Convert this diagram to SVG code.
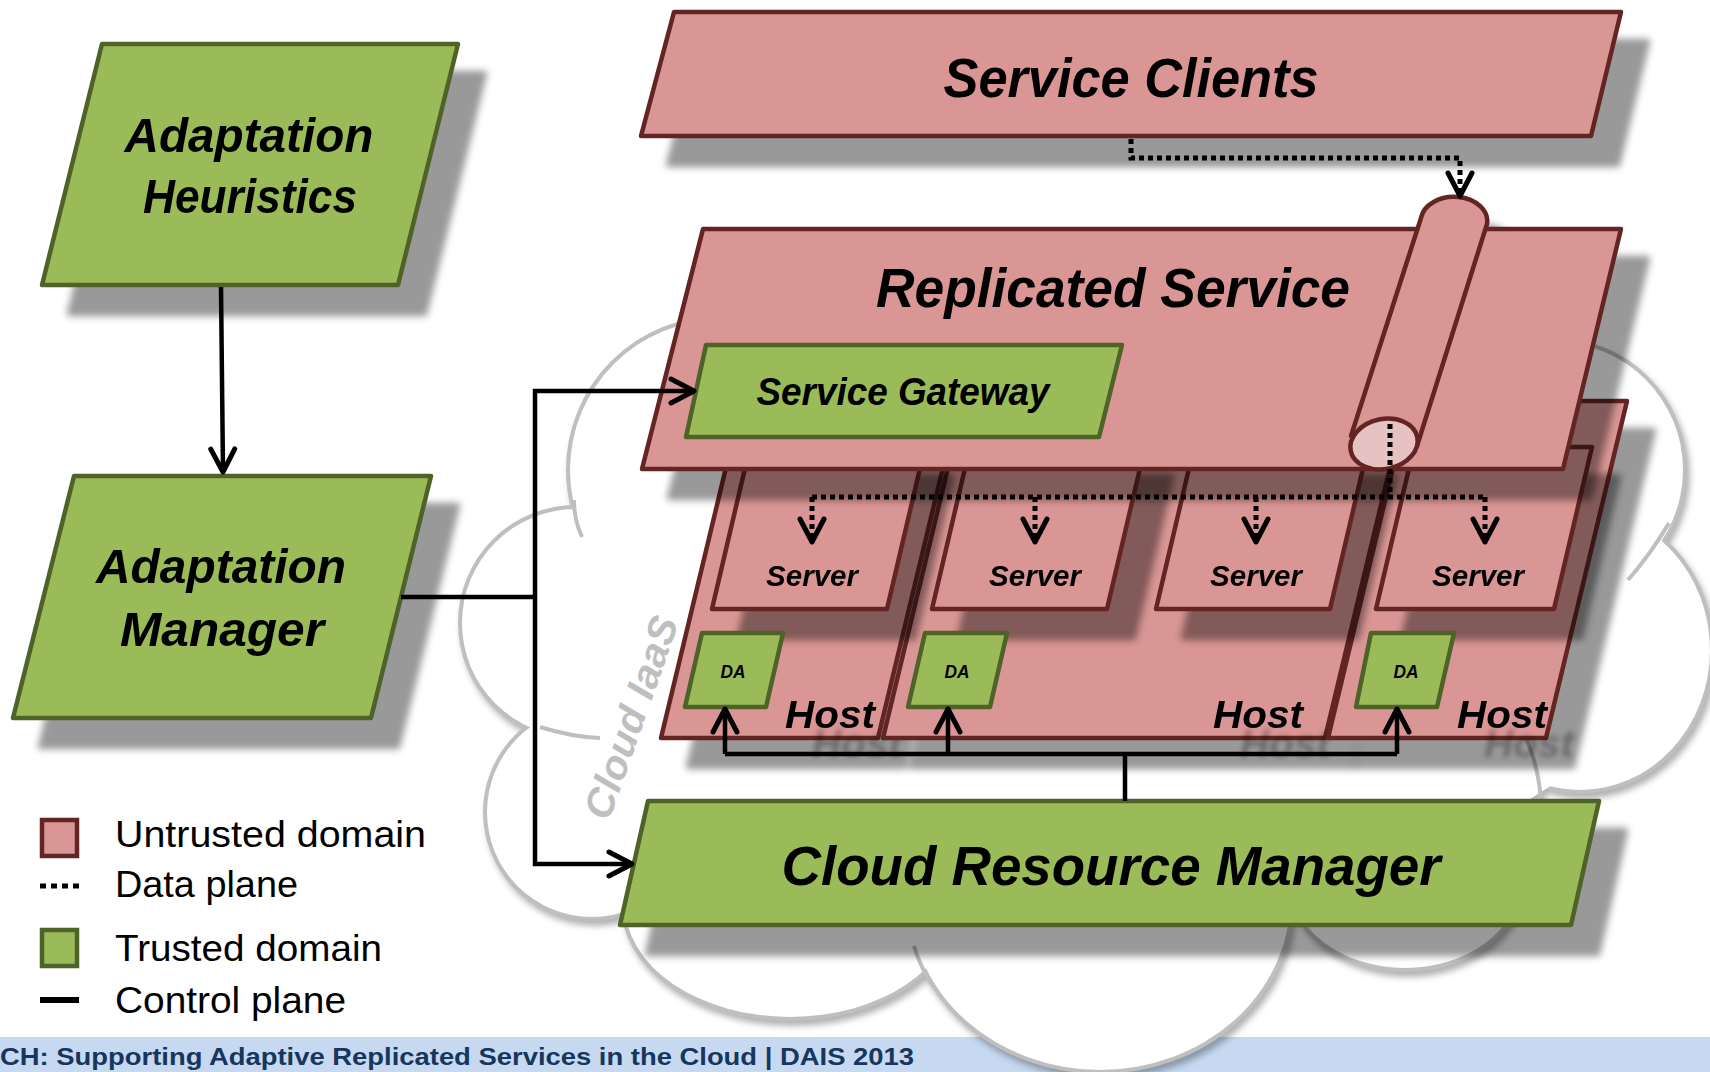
<svg xmlns="http://www.w3.org/2000/svg" width="1710" height="1072" viewBox="0 0 1710 1072">
<style>
.pk{fill:#d99694;stroke:#632523;stroke-width:4.5;stroke-linejoin:round}
.gr{fill:#9bbb59;stroke:#4f6228;stroke-width:4.5;stroke-linejoin:round}
.lbl{font-family:"Liberation Sans",Arial,sans-serif;font-weight:bold;font-style:italic;fill:#000;text-anchor:middle}
.leg{font-family:"Liberation Sans",Arial,sans-serif;font-size:37px;fill:#000}
.ctl{fill:none;stroke:#000;stroke-width:4.5}
.dat{fill:none;stroke:#000;stroke-width:5;stroke-dasharray:5 4}
.cl{fill:none;stroke:#bfbfbf;stroke-width:4}
</style>
<defs>
<filter id="sh" x="-20%" y="-20%" width="150%" height="170%" color-interpolation-filters="sRGB">
<feGaussianBlur in="SourceAlpha" stdDeviation="3.5"/>
<feOffset dx="27" dy="29" result="b"/>
<feFlood flood-color="#000" flood-opacity="0.4"/>
<feComposite in2="b" operator="in"/>
<feMerge><feMergeNode/><feMergeNode in="SourceGraphic"/></feMerge>
</filter>
<filter id="tsh" x="-20%" y="-20%" width="160%" height="200%" color-interpolation-filters="sRGB">
<feGaussianBlur in="SourceAlpha" stdDeviation="2.5"/>
<feOffset dx="27" dy="29" result="b"/>
<feFlood flood-color="#000" flood-opacity="0.3"/>
<feComposite in2="b" operator="in"/>
<feMerge><feMergeNode/><feMergeNode in="SourceGraphic"/></feMerge>
</filter>
<filter id="csh" x="-10%" y="-10%" width="120%" height="120%" color-interpolation-filters="sRGB">
<feGaussianBlur in="SourceAlpha" stdDeviation="3"/>
<feOffset dx="3" dy="5" result="b"/>
<feFlood flood-color="#000" flood-opacity="0.3"/>
<feComposite in2="b" operator="in"/>
<feMerge><feMergeNode/><feMergeNode in="SourceGraphic"/></feMerge>
</filter>
<marker id="ah" markerUnits="userSpaceOnUse" markerWidth="40" markerHeight="40" refX="24" refY="13" orient="auto" overflow="visible">
<path d="M1,1 L24,13 L1,25" fill="none" stroke="#000" stroke-width="5" stroke-dasharray="none" stroke-linecap="round" stroke-linejoin="round"/>
</marker>
</defs>

<rect id="footer-bar" x="0" y="1037" width="1710" height="35" fill="#c6d9f1"/>

<g id="cloud" filter="url(#csh)">
<g fill="none" stroke="#bfbfbf" stroke-width="8">
<circle cx="720" cy="470" r="150"/>
<circle cx="576" cy="623" r="114"/>
<circle cx="592" cy="812" r="105"/>
<ellipse cx="790" cy="905" rx="165" ry="112"/>
<ellipse cx="1100" cy="900" rx="190" ry="170"/>
<ellipse cx="1405" cy="880" rx="115" ry="88"/>
<circle cx="1555" cy="470" r="128"/>
<ellipse cx="1580" cy="650" rx="130" ry="140"/>
</g>
<g fill="#fff">
<circle cx="720" cy="470" r="150"/>
<circle cx="576" cy="623" r="114"/>
<circle cx="592" cy="812" r="105"/>
<ellipse cx="790" cy="905" rx="165" ry="112"/>
<ellipse cx="1100" cy="900" rx="190" ry="170"/>
<ellipse cx="1405" cy="880" rx="115" ry="88"/>
<circle cx="1555" cy="470" r="128"/>
<ellipse cx="1580" cy="650" rx="130" ry="140"/>
<polygon points="720,330 1555,345 1600,560 1560,780 1450,850 900,860 640,880 600,700 650,560 700,400"/>
</g>
<path class="cl" d="M574,500 Q574,520 582,537"/>
<path class="cl" d="M540,727 Q572,737 600,738"/>
<path class="cl" d="M1669,523 Q1650,555 1628,580"/>
<path class="cl" d="M914,946 Q921,970 936,990"/>
<path class="cl" d="M1521,728 Q1538,760 1541,800"/>
</g>

<text id="cloud-label" class="lbl" transform="translate(644,722) rotate(-70.6)" font-size="40" textLength="212" lengthAdjust="spacingAndGlyphs" style="fill:#bfbfbf">Cloud IaaS</text>

<g id="adaptation-heuristics" filter="url(#sh)">
<polygon class="gr" points="102,44 458,44 398,285 42,285"/>
<text class="lbl" x="249" y="152" font-size="49" textLength="249" lengthAdjust="spacingAndGlyphs">Adaptation</text>
<text class="lbl" x="250" y="213" font-size="49" textLength="214" lengthAdjust="spacingAndGlyphs">Heuristics</text>
</g>

<g id="adaptation-manager" filter="url(#sh)">
<polygon class="gr" points="74,476 431,476 371,718 13,718"/>
<text class="lbl" x="221" y="583" font-size="49" textLength="250" lengthAdjust="spacingAndGlyphs">Adaptation</text>
<text class="lbl" x="222" y="646" font-size="49" textLength="204" lengthAdjust="spacingAndGlyphs">Manager</text>
</g>

<g id="host-1">
<polygon class="pk" points="742,401 959,401 878,738 661,738" filter="url(#sh)"/>
<text class="lbl" x="830" y="728" font-size="39" textLength="90" lengthAdjust="spacingAndGlyphs" filter="url(#tsh)">Host</text>
</g>
<g id="host-2">
<polygon class="pk" points="964,401 1406,401 1325,738 883,738" filter="url(#sh)"/>
<text class="lbl" x="1258" y="728" font-size="39" textLength="90" lengthAdjust="spacingAndGlyphs" filter="url(#tsh)">Host</text>
</g>
<g id="host-3">
<polygon class="pk" points="1409,401 1627,401 1546,738 1328,738" filter="url(#sh)"/>
<text class="lbl" x="1502" y="728" font-size="39" textLength="90" lengthAdjust="spacingAndGlyphs" filter="url(#tsh)">Host</text>
</g>

<g id="server-1" filter="url(#sh)">
<polygon class="pk" points="750,447 925,447 887,609 712,609"/>
<text class="lbl" x="812" y="586" font-size="30" textLength="92" lengthAdjust="spacingAndGlyphs">Server</text>
</g>
<g id="server-2" filter="url(#sh)">
<polygon class="pk" points="970,447 1145,447 1107,609 932,609"/>
<text class="lbl" x="1035" y="586" font-size="30" textLength="92" lengthAdjust="spacingAndGlyphs">Server</text>
</g>
<g id="server-3" filter="url(#sh)">
<polygon class="pk" points="1194,447 1368,447 1330,609 1156,609"/>
<text class="lbl" x="1256" y="586" font-size="30" textLength="92" lengthAdjust="spacingAndGlyphs">Server</text>
</g>
<g id="server-4" filter="url(#sh)">
<polygon class="pk" points="1414,447 1592,447 1554,609 1376,609"/>
<text class="lbl" x="1478" y="586" font-size="30" textLength="92" lengthAdjust="spacingAndGlyphs">Server</text>
</g>

<g id="da-1">
<polygon class="gr" points="702,633 783,633 766,707 685,707"/>
<text class="lbl" x="733" y="678" font-size="18" textLength="25" lengthAdjust="spacingAndGlyphs">DA</text>
</g>
<g id="da-2">
<polygon class="gr" points="925,633 1007,633 990,707 908,707"/>
<text class="lbl" x="957" y="678" font-size="18" textLength="25" lengthAdjust="spacingAndGlyphs">DA</text>
</g>
<g id="da-3">
<polygon class="gr" points="1371,633 1454,633 1437,707 1356,707"/>
<text class="lbl" x="1406" y="678" font-size="18" textLength="25" lengthAdjust="spacingAndGlyphs">DA</text>
</g>

<g id="replicated-service" filter="url(#sh)">
<polygon class="pk" points="703,229 1621,229 1563,469 642,469"/>
<text class="lbl" x="1113" y="307" font-size="56" textLength="474" lengthAdjust="spacingAndGlyphs">Replicated Service</text>
<path class="pk" d="M1421,218 A33,24 0 0 1 1487,224 L1417,446 L1351,436 Z"/>
<ellipse class="pk" cx="1384" cy="444" rx="34" ry="25" transform="rotate(-12 1384 444)" style="fill:#e6c3c2"/>
</g>

<g id="service-gateway">
<polygon class="gr" points="706,345 1122,345 1099,437 686,437"/>
<text class="lbl" x="903" y="405" font-size="38" textLength="293" lengthAdjust="spacingAndGlyphs">Service Gateway</text>
</g>

<g id="service-clients" filter="url(#sh)">
<polygon class="pk" points="674,12 1621,12 1591,136 641,136"/>
<text class="lbl" x="1131" y="97" font-size="56" textLength="375" lengthAdjust="spacingAndGlyphs">Service Clients</text>
</g>

<g id="cloud-resource-manager" filter="url(#sh)">
<polygon class="gr" points="648,801 1599,801 1571,925 620,925"/>
<text class="lbl" x="1111" y="885" font-size="56" textLength="659" lengthAdjust="spacingAndGlyphs">Cloud Resource Manager</text>
</g>

<g id="connectors">
<path class="dat" d="M1131,139 V158 H1460 V196" marker-end="url(#ah)"/>
<path class="dat" d="M1390,424 V497"/>
<path class="dat" d="M812,497 H1485"/>
<path class="dat" d="M812,497 V542" marker-end="url(#ah)"/>
<path class="dat" d="M1035,497 V542" marker-end="url(#ah)"/>
<path class="dat" d="M1256,497 V542" marker-end="url(#ah)"/>
<path class="dat" d="M1485,497 V542" marker-end="url(#ah)"/>
<path class="ctl" d="M221,287 L223,472" marker-end="url(#ah)"/>
<path class="ctl" d="M401,597 H535"/>
<path class="ctl" d="M535,597 V391 H694" marker-end="url(#ah)"/>
<path class="ctl" d="M535,597 V864 H632" marker-end="url(#ah)"/>
<path class="ctl" d="M1125,801 V754"/>
<path class="ctl" d="M725,754 H1397"/>
<path class="ctl" d="M725,754 V709" marker-end="url(#ah)"/>
<path class="ctl" d="M948,754 V709" marker-end="url(#ah)"/>
<path class="ctl" d="M1397,754 V709" marker-end="url(#ah)"/>
</g>

<g id="legend">
<rect x="42" y="820" width="35" height="36" fill="#d99694" stroke="#632523" stroke-width="4.5"/>
<text class="leg" x="115" y="847" textLength="311" lengthAdjust="spacingAndGlyphs">Untrusted domain</text>
<line x1="40" y1="886" x2="80" y2="886" stroke="#000" stroke-width="5" stroke-dasharray="6 5"/>
<text class="leg" x="115" y="897" textLength="183" lengthAdjust="spacingAndGlyphs">Data plane</text>
<rect x="42" y="930" width="35" height="36" fill="#9bbb59" stroke="#4f6228" stroke-width="4.5"/>
<text class="leg" x="115" y="961" textLength="267" lengthAdjust="spacingAndGlyphs">Trusted domain</text>
<line x1="40" y1="1000" x2="79" y2="1000" stroke="#000" stroke-width="6"/>
<text class="leg" x="115" y="1013" textLength="231" lengthAdjust="spacingAndGlyphs">Control plane</text>
</g>

<text id="footer-text" x="0" y="1065" font-family="'Liberation Sans',Arial,sans-serif" font-weight="bold" font-size="24" fill="#17365d" textLength="914" lengthAdjust="spacingAndGlyphs">CH: Supporting Adaptive Replicated Services in the Cloud | DAIS 2013</text>
</svg>
